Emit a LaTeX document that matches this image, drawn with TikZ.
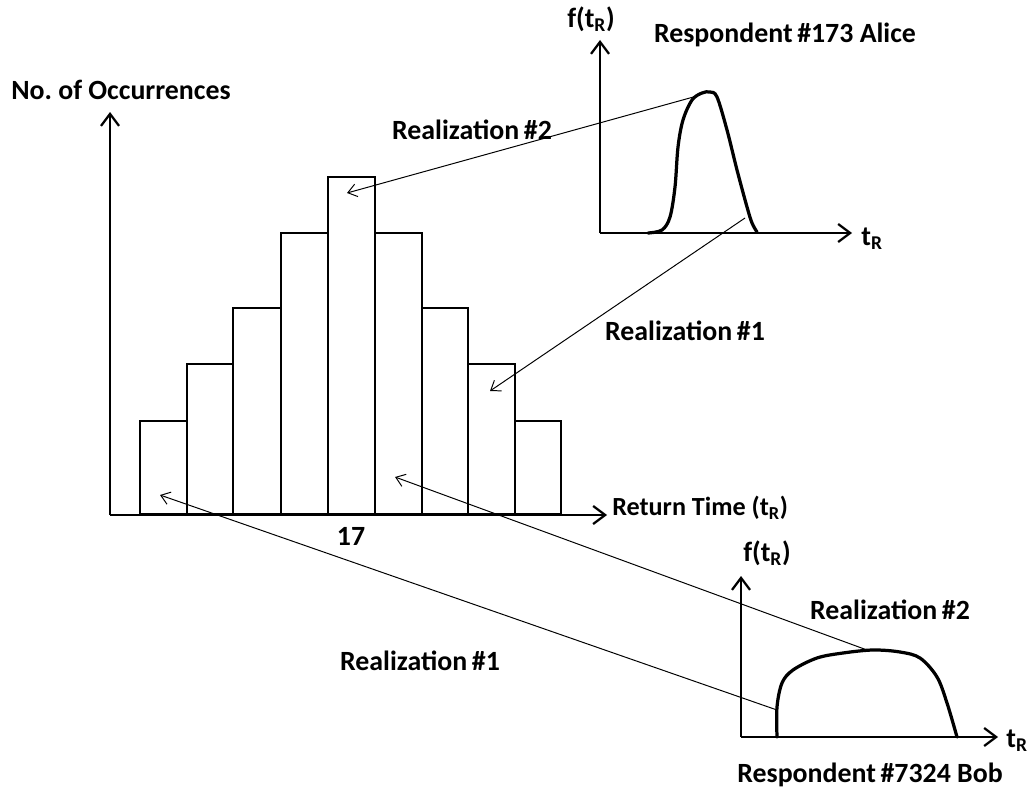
\documentclass[tikz,border=0pt]{standalone}
\usepackage{fontspec}
\setmainfont{Carlito}
\usetikzlibrary{arrows.meta}
\frenchspacing

\begin{document}
\begin{tikzpicture}[x=0.025cm,y=-0.025cm,
    lbl/.style={font=\bfseries\fontsize{19.8}{22}\selectfont, inner sep=0pt},
    axis/.style={line width=1.6pt, -{Straight Barb[length=3mm,width=4.5mm]}},
    bar/.style={line width=2.1pt},
    realz/.style={line width=0.7pt, -{Straight Barb[length=2.2mm,width=3.2mm]}},
    curve/.style={line width=2.3pt, line cap=round}]

    \useasboundingbox (0,0) rectangle (1031,795);

    % histogram
    \foreach \xa/\xb/\h in {140/187/421,187/233/364,233/281/308,281/328/233,328/375/177,
                            375/422/233,422/468/308,468/515/364,515/561/421}
        \draw[bar] (\xa,514) rectangle (\xb,\h);

    \coordinate(o) at (110,515);
    \draw[axis] (o) -- (110,112);
    \draw[axis] (o) -- (607,515);
    \node(occ)[lbl] at (121,90) {No. of Occurrences};
    \node(ret)[lbl,right,font=\bfseries\fontsize{18.6}{22}\selectfont] at (612,508) {Return Time (t\textsubscript{R})};
    \node(mid)[lbl] at (351,536) {17};

    \coordinate(b1) at (160,495);
    \coordinate(b5) at (347,193);
    \coordinate(b6) at (395,477);
    \coordinate(b8) at (490,391);

    % respondent 173
    \coordinate(oa) at (600,233);
    \draw[axis] (oa) -- (600,40);
    \draw[axis] (oa) -- (852,233);
    \node(fa)[lbl] at (591,19) {f(t\textsubscript{R})};
    \node(ta)[lbl] at (872,239) {t\textsubscript{R}};
    \node(alice)[lbl] at (785,35) {Respondent\,\#173 Alice};
    \draw[curve] plot[smooth,tension=0.55] coordinates {(648,233) (662,230) (670,217) (675,187)
        (678,147) (683,120) (692,100) (702,93) (710,92) (717,97) (727,130) (737,170)
        (747,207) (752,223) (757,232)};
    \coordinate(a2) at (697,96);
    \coordinate(a1) at (745,218);

    % respondent 7324
    \coordinate(ob) at (741,737);
    \draw[axis] (ob) -- (741,576);
    \draw[axis] (ob) -- (998,737);
    \node(fb)[lbl] at (767,553) {f(t\textsubscript{R})};
    \node(tb)[lbl] at (1017,741) {t\textsubscript{R}};
    \node(bob)[lbl] at (870,775) {Respondent\,\#7324 Bob};
    \draw[curve] plot[smooth,tension=0.55] coordinates {(777,737) (777,707) (782,683) (793,670)
        (817,658) (843,653) (873,650) (900,652) (920,658) (937,677) (947,703) (957,737)};
    \coordinate(c2) at (867,650);
    \coordinate(c1) at (777,710);

    \draw[realz] (a2) -- (b5);
    \draw[realz] (a1) -- (b8);
    \draw[realz] (c2) -- (b6);
    \draw[realz] (c1) -- (b1);

    \node(ra2)[lbl] at (472,130) {Realization\,\#2};
    \node(ra1)[lbl] at (685,331) {Realization\,\#1};
    \node(rb1)[lbl] at (420,661) {Realization\,\#1};
    \node(rb2)[lbl] at (890,610) {Realization\,\#2};

\end{tikzpicture}
\end{document}
